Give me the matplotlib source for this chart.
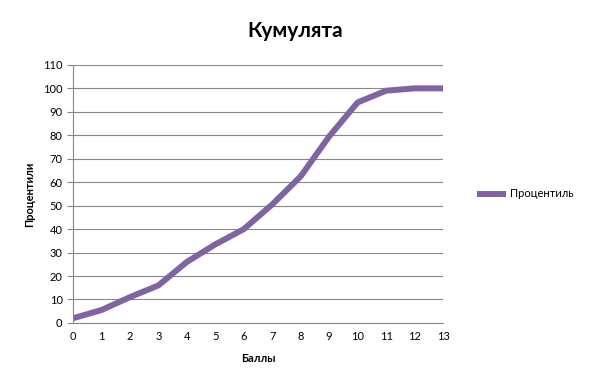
import matplotlib.pyplot as plt

plt.rcParams['font.family'] = ['Lato', 'DejaVu Sans']

scores = [0, 1, 2, 3, 4, 5, 6, 7, 8, 9, 10, 11, 12, 13]
percentile = [2, 5.5, 11, 16, 26, 33.5, 40, 50.5, 62.5, 79.5, 94, 99, 100, 100]

fig = plt.figure(figsize=(5.91, 3.84), dpi=100)
ax = fig.add_axes([0.1235, 0.159, 0.6261, 0.672])

ax.plot(scores, percentile, color='#8064A2', linewidth=4.3,
        solid_joinstyle='round', solid_capstyle='butt', label='Процентиль')

ax.set_xlim(0, 13)
ax.set_ylim(0, 110)
ax.set_xticks(range(0, 14))
ax.set_yticks(range(0, 111, 10))
ax.grid(axis='y', color='#888888', linewidth=0.8)
ax.set_axisbelow(True)
for s in ['top', 'right']:
    ax.spines[s].set_visible(False)
ax.spines['left'].set_color('#888888')
ax.spines['bottom'].set_color('#888888')
ax.tick_params(axis='y', length=4, color='#888888', labelsize=8)
ax.tick_params(axis='x', length=0, labelsize=8, pad=6)

fig.text(0.5, 0.92, 'Кумулята', fontsize=15, fontweight='bold', ha='center', va='center')
ax.set_xlabel('Баллы', fontsize=8, fontweight='bold', labelpad=8)
ax.set_ylabel('Процентили', fontsize=8, fontweight='bold', labelpad=6)

ax.legend(loc='center left', bbox_to_anchor=(1.065, 0.5), frameon=False,
          fontsize=8, handlelength=2.6, handletextpad=0.35)

fig.savefig('out.png', dpi=100)
